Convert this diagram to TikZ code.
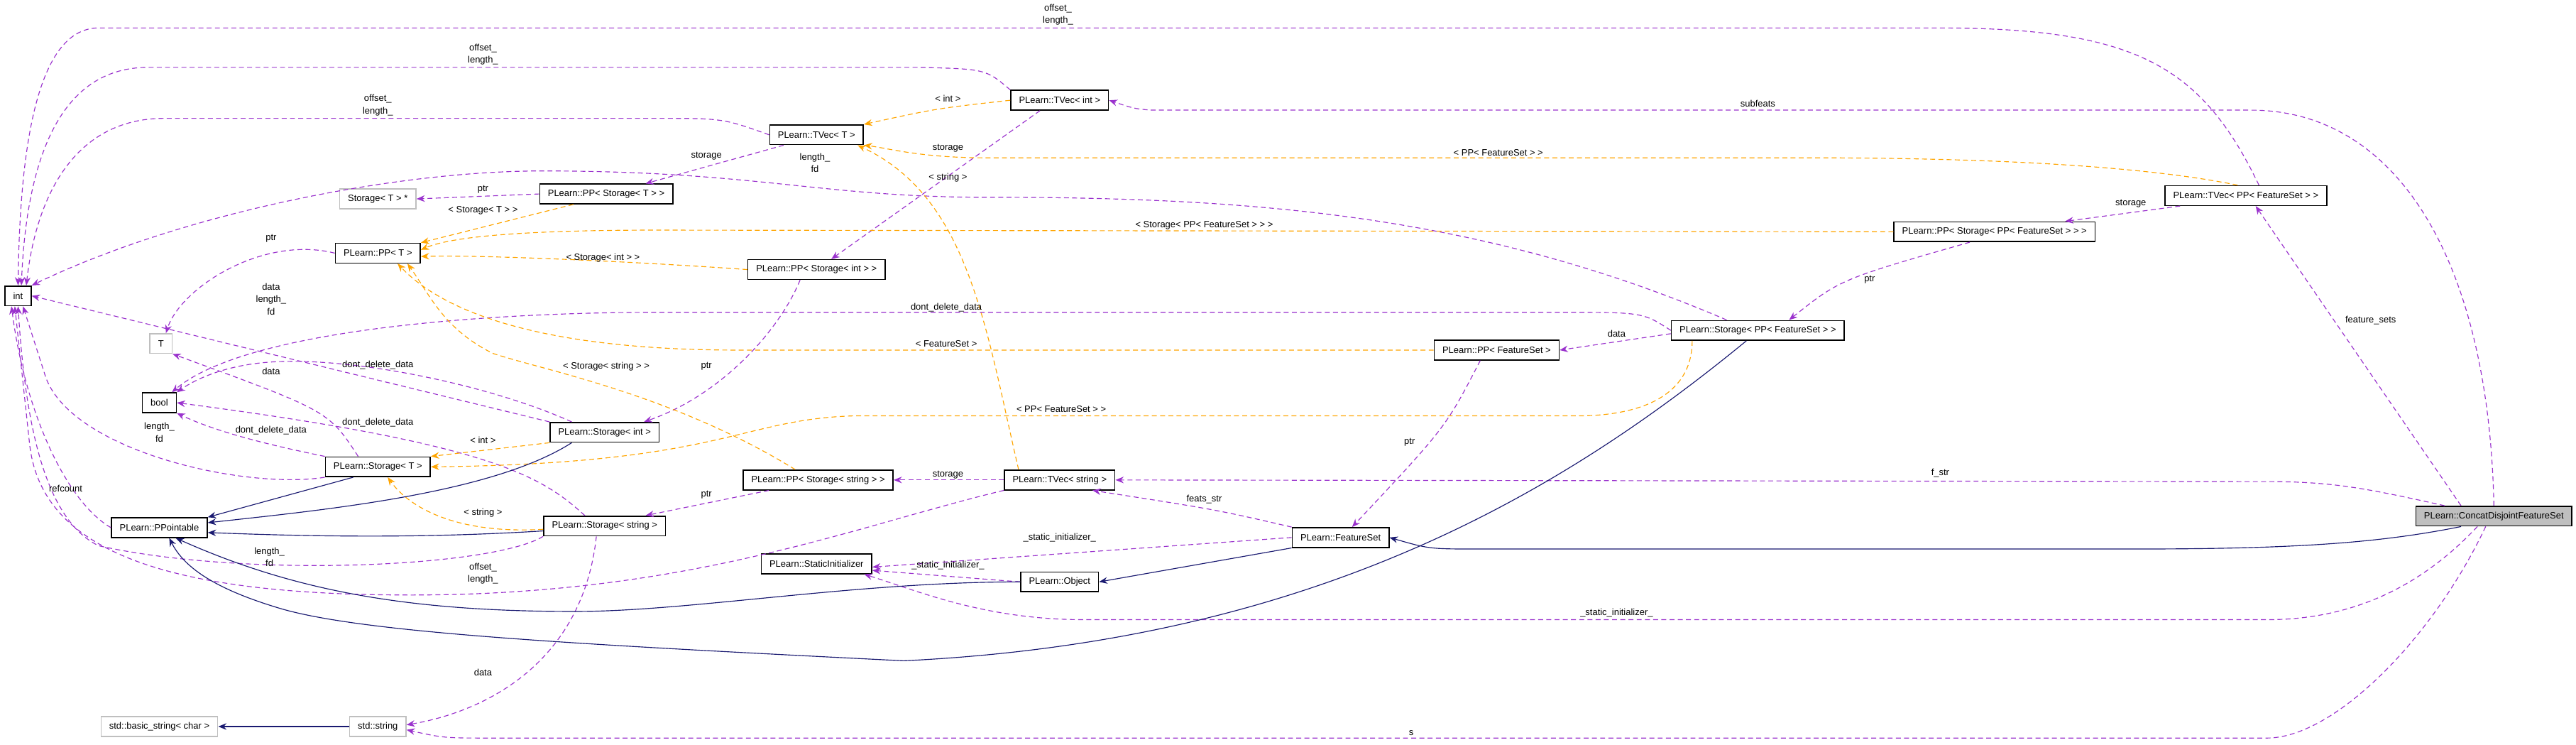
\documentclass[tikz,border=0pt]{standalone}
\usepackage{fontspec}
\setmainfont{Liberation Sans}
\usetikzlibrary{arrows.meta}
\usetikzlibrary{positioning}

\definecolor{usecol}{HTML}{9A32CD}
\definecolor{tplcol}{HTML}{FFA500}
\definecolor{inhcol}{HTML}{191970}

\begin{document}
\begin{tikzpicture}[x=1pt,y=-1pt,
    every node/.style={font=\fontsize{5.6}{7.5}\selectfont},
    cls/.style={draw=black,line width=0.7pt,minimum height=12pt,inner xsep=5pt,inner ysep=0pt},
    extcls/.style={cls,draw=black!25},
    curcls/.style={cls,fill=black!25},
    lbl/.style={inner sep=0pt,align=center},
    use/.style={usecol,dash pattern=on 3pt off 2pt,line width=0.5pt,-{Stealth[length=5pt,width=4pt]}},
    tpl/.style={tplcol,dash pattern=on 3pt off 2pt,line width=0.5pt,-{Stealth[length=5pt,width=4pt]}},
    inh/.style={inhcol,line width=0.5pt,-{Stealth[length=5pt,width=4pt]}}]
    \useasboundingbox (0,0) rectangle (1568,453);

    % classes
    \node[cls] (int) at (11,180) {int};
    \node[extcls] (T) at (98,209) {T};
    \node[cls] (bool) at (97,245) {bool};
    \node[extcls] (StorTptr) at (230,121) {Storage< T > *};
    \node[cls] (PPStorT) at (369,118) {PLearn::PP< Storage< T > >};
    \node[cls] (PPT) at (230,154) {PLearn::PP< T >};
    \node[cls] (TVecT) at (497,82) {PLearn::TVec< T >};
    \node[cls] (TVecInt) at (645,61) {PLearn::TVec< int >};
    \node[cls] (PPStorInt) at (497,164) {PLearn::PP< Storage< int > >};
    \node[cls] (StorT) at (230,284) {PLearn::Storage< T >};
    \node[cls] (StorInt) at (368,263) {PLearn::Storage< int >};
    \node[cls] (PPtbl) at (97,321) {PLearn::PPointable};
    \node[cls] (StorStr) at (368,320) {PLearn::Storage< string >};
    \node[cls] (PPStorStr) at (498,292) {PLearn::PP< Storage< string > >};
    \node[cls] (TVecStr) at (645,292) {PLearn::TVec< string >};
    \node[cls] (StatInit) at (497,343) {PLearn::StaticInitializer};
    \node[cls] (Object) at (645,354) {PLearn::Object};
    \node[cls] (FeatSet) at (816,327) {PLearn::FeatureSet};
    \node[cls] (PPFS) at (911,213) {PLearn::PP< FeatureSet >};
    \node[cls] (StorPPFS) at (1070,201) {PLearn::Storage< PP< FeatureSet > >};
    \node[cls] (PPStorPPFS) at (1214,141) {PLearn::PP< Storage< PP< FeatureSet > > >};
    \node[cls] (TVecPPFS) at (1367,119) {PLearn::TVec< PP< FeatureSet > >};
    \node[curcls] (Concat) at (1518,314) {PLearn::ConcatDisjointFeatureSet};
    \node[extcls] (basic) at (97,442) {std::basic\_string< char >};
    \node[extcls] (stdstr) at (230,442) {std::string};

    % members
    \draw[use] ([xshift=8pt]TVecPPFS.north) .. controls (1340,40) and (1300,17) .. (1180,17)
        -- (60,17) .. controls (20,17) and (12,100) .. (int.north);
    \draw[use] (TVecInt.north west) .. controls (600,42) .. (560,41)
        -- (90,41) .. controls (35,41) and (16,100) .. ([xshift=2pt]int.north);
    \draw[use] (TVecT.west) .. controls (440,72) .. (400,72)
        -- (100,72) .. controls (45,72) and (22,120) .. ([xshift=5pt]int.north);
    \draw[use] ([xshift=-19pt]StorPPFS.north) .. controls (900,130) and (760,120) .. (600,120)
        .. controls (500,120) and (460,104) .. (330,104) .. controls (240,104) and (110,130) .. (int.north east);
    \draw[use] (StorT.south west) .. controls (150,298) and (45,275) .. (28,230) -- ([xshift=3pt]int.south);
    \draw[use] (StorInt.north west) -- (int.east);
    \draw[use] (StorStr.south west) .. controls (300,345) and (150,352) .. (60,332)
        .. controls (25,315) and (15,250) .. (int.south);
    \draw[use] (TVecStr.south west) .. controls (520,320) and (420,362) .. (250,362)
        .. controls (100,362) and (25,335) .. (18,270) -- ([xshift=-2pt]int.south);
    \draw[use] (PPtbl.west) .. controls (40,305) and (15,250) .. ([xshift=-4pt]int.south);
    \draw[use] (Concat.north) .. controls (1515,160) and (1460,67) .. (1370,67)
        -- (700,67) .. controls (690,66) .. (TVecInt.east);
    \draw[use] ([xshift=-20pt]Concat.north) -- ([xshift=6pt]TVecPPFS.south);
    \draw[use] ([xshift=-30pt]Concat.north) .. controls (1440,297) and (1420,293) .. (1380,293)
        -- (TVecStr.east);
    \draw[use] ([xshift=-10pt]Concat.south) .. controls (1480,350) and (1440,377) .. (1380,377)
        -- (660,377) .. controls (600,377) and (560,360) .. ([xshift=29pt]StatInit.south);
    \draw[use] ([xshift=-5pt]Concat.south) .. controls (1480,390) and (1420,449) .. (1380,449)
        -- (300,449) .. controls (270,449) .. ([yshift=-2pt]stdstr.east);
    \draw[use] ([xshift=-20pt]TVecT.south) -- ([xshift=24pt]PPStorT.north);
    \draw[use] (PPStorT.west) -- (StorTptr.east);
    \draw[use] (PPT.west) .. controls (160,143) and (110,175) .. ([xshift=3pt]T.north);
    \draw[use] ([xshift=-12pt]TVecInt.south) -- ([xshift=9pt]PPStorInt.north);
    \draw[use] ([xshift=-10pt]PPStorInt.south) .. controls (475,200) and (440,240) .. ([xshift=24pt]StorInt.north);
    \draw[use] ([xshift=-12pt]StorT.north) .. controls (200,250) .. (T.south east);
    \draw[use] (StorT.north west) .. controls (160,270) and (130,262) .. (bool.south east);
    \draw[use] ([xshift=-20pt]StorInt.north) .. controls (300,235) and (220,218) .. (170,220)
        .. controls (140,221) and (120,230) .. (bool.north east);
    \draw[use] ([xshift=-12pt]StorStr.north) .. controls (330,290) and (300,270) .. (bool.east);
    \draw[use] (StorPPFS.west) .. controls (1000,190) .. (950,190) -- (400,190)
        .. controls (300,190) and (150,200) .. ([xshift=-3pt]bool.north east);
    \draw[use] ([xshift=-5pt]StorStr.south) .. controls (355,400) and (300,432) .. ([yshift=1pt]stdstr.east);
    \draw[use] ([xshift=-30pt]PPStorStr.south) -- ([xshift=25pt]StorStr.north);
    \draw[use] (TVecStr.west) -- (PPStorStr.east);
    \draw[use] (FeatSet.north west) .. controls (740,310) .. ([xshift=20pt]TVecStr.south);
    \draw[use] (FeatSet.west) -- ([yshift=-2pt]StatInit.east);
    \draw[use] (Object.west) -- ([yshift=-4pt]StatInit.east);
    \draw[use] ([xshift=-10pt]PPFS.south) .. controls (880,260) .. ([xshift=7pt]FeatSet.north);
    \draw[use] ([yshift=-2pt]StorPPFS.west) -- (PPFS.east);
    \draw[use] ([xshift=-15pt]PPStorPPFS.south) .. controls (1120,170) .. ([xshift=19pt]StorPPFS.north);
    \draw[use] ([xshift=-40pt]TVecPPFS.south) -- ([xshift=43pt]PPStorPPFS.north);

    % templates
    \draw[tpl] (TVecInt.west) .. controls (570,66) .. (TVecT.north east);
    \draw[tpl] ([xshift=-5pt]TVecPPFS.north) .. controls (1300,100) and (1200,96) .. (1100,96)
        -- (600,96) .. controls (560,96) and (540,90) .. (TVecT.south east);
    \draw[tpl] ([xshift=-25pt]TVecStr.north) .. controls (600,200) and (590,120) .. ([xshift=25pt]TVecT.south);
    \draw[tpl] ([xshift=-20pt]PPStorT.south) -- (PPT.north east);
    \draw[tpl] (PPStorPPFS.west) -- (400,140) .. controls (300,140) and (270,146) .. ([yshift=2pt]PPT.east);
    \draw[tpl] (PPStorInt.west) .. controls (400,160) and (300,155) .. ([yshift=-2pt]PPT.east);
    \draw[tpl] ([xshift=-14pt]PPStorStr.north) .. controls (410,240) and (330,225) .. (300,215)
        .. controls (270,200) and (262,180) .. ([xshift=18pt]PPT.south);
    \draw[tpl] (PPFS.west) -- (450,213) .. controls (330,213) and (270,190) .. ([xshift=12pt]PPT.south);
    \draw[tpl] (StorInt.south west) -- (StorT.north east);
    \draw[tpl] ([yshift=-2pt]StorStr.west) .. controls (280,325) and (250,310) .. ([xshift=6pt]StorT.south);
    \draw[tpl] ([xshift=-40pt]StorPPFS.south) .. controls (1030,240) and (1000,253) .. (960,253)
        -- (520,253) .. controls (450,255) and (440,282) .. (StorT.east);

    % inheritance
    \draw[inh] ([xshift=-15pt]StorT.south) -- (PPtbl.north east);
    \draw[inh] ([xshift=-20pt]StorInt.south) .. controls (300,300) and (200,310) .. ([yshift=3pt]PPtbl.east);
    \draw[inh] ([yshift=-3pt]StorStr.west) .. controls (250,328) and (180,326) .. ([yshift=-3pt]PPtbl.east);
    \draw[inh] (Object.west) .. controls (520,354) and (420,372) .. (350,372)
        .. controls (250,372) and (180,360) .. ([xshift=10pt]PPtbl.south);
    \draw[inh] ([xshift=-7pt]StorPPFS.south) .. controls (950,300) and (800,390) .. (550,402)
        .. controls (350,392) and (220,385) .. (170,370) .. controls (130,358) and (112,345) .. ([xshift=6pt]PPtbl.south);
    \draw[inh] (FeatSet.south west) -- (Object.east);
    \draw[inh] ([xshift=-20pt]Concat.south) .. controls (1450,330) and (1400,334) .. (1300,334)
        -- (900,334) .. controls (870,334) .. (FeatSet.east);
    \draw[inh] (stdstr.west) -- (basic.east);

    % edge labels
    \node[lbl] (l1) at (644,9) {offset\_\\length\_};
    \node[lbl] (l2) at (294,33) {offset\_\\length\_};
    \node[lbl] (l3) at (230,64) {offset\_\\length\_};
    \node[lbl] (l4) at (496,99) {length\_\\fd};
    \node[lbl] (l5) at (97,263) {length\_\\fd};
    \node[lbl] (l6) at (165,182) {data\\length\_\\fd};
    \node[lbl] (l7) at (164,339) {length\_\\fd};
    \node[lbl] (l8) at (294,349) {offset\_\\length\_};
    \node[lbl] (l9) at (40,297) {refcount};
    \node[lbl] (l10) at (1070,63) {subfeats};
    \node[lbl] (l11) at (1443,195) {feature\_sets};
    \node[lbl] (l12) at (1181,288) {f\_str};
    \node[lbl] (l13) at (984,373) {\_static\_initializer\_};
    \node[lbl] (l14) at (859,446) {s};
    \node[lbl] (l15) at (430,95) {storage};
    \node[lbl] (l16) at (294,115) {ptr};
    \node[lbl] (l17) at (165,145) {ptr};
    \node[lbl] (l18) at (577,90) {storage};
    \node[lbl] (l19) at (430,223) {ptr};
    \node[lbl] (l20) at (165,226) {data};
    \node[lbl] (l21) at (165,262) {dont\_delete\_data};
    \node[lbl] (l22) at (230,222) {dont\_delete\_data};
    \node[lbl] (l23) at (230,257) {dont\_delete\_data};
    \node[lbl] (l24) at (576,187) {dont\_delete\_data};
    \node[lbl] (l25) at (294,409) {data};
    \node[lbl] (l26) at (430,301) {ptr};
    \node[lbl] (l27) at (577,289) {storage};
    \node[lbl] (l28) at (733,304) {feats\_str};
    \node[lbl] (l29) at (645,327) {\_static\_initializer\_};
    \node[lbl] (l30) at (577,344) {\_static\_initializer\_};
    \node[lbl] (l31) at (858,269) {ptr};
    \node[lbl] (l32) at (984,203) {data};
    \node[lbl] (l33) at (1138,170) {ptr};
    \node[lbl] (l34) at (1297,124) {storage};
    \node[lbl] (t1) at (577,60) {< int >};
    \node[lbl] (t2) at (912,93) {< PP< FeatureSet > >};
    \node[lbl] (t3) at (577,108) {< string >};
    \node[lbl] (t4) at (294,128) {< Storage< T > >};
    \node[lbl] (t5) at (733,137) {< Storage< PP< FeatureSet > > >};
    \node[lbl] (t6) at (367,157) {< Storage< int > >};
    \node[lbl] (t7) at (369,223) {< Storage< string > >};
    \node[lbl] (t8) at (576,209) {< FeatureSet >};
    \node[lbl] (t9) at (294,268) {< int >};
    \node[lbl] (t10) at (294,312) {< string >};
    \node[lbl] (t11) at (646,249) {< PP< FeatureSet > >};
\end{tikzpicture}
\end{document}
